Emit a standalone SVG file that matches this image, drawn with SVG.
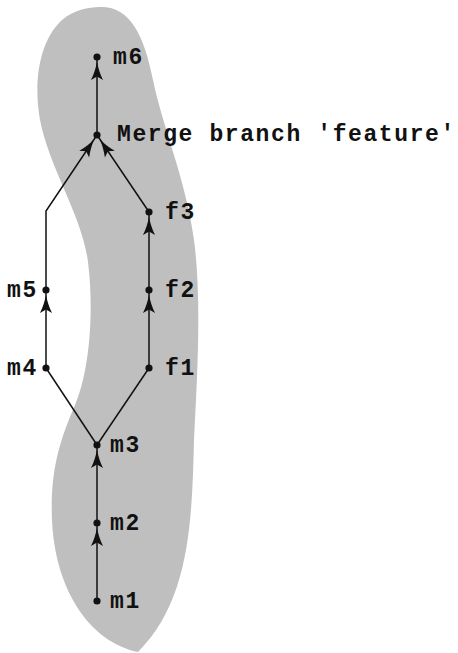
<svg xmlns="http://www.w3.org/2000/svg" width="458" height="653" viewBox="0 0 458 653">
<style>
.lbl{font-family:"Liberation Mono","Courier New",monospace;font-weight:bold;font-size:23px;letter-spacing:1.6px;fill:#111}
.e{fill:none;stroke:#111;stroke-width:1.5}
.dot{fill:#111}
</style>
<defs>
<marker id="ah" markerUnits="userSpaceOnUse" markerWidth="30" markerHeight="20" refX="5" refY="0" orient="auto" overflow="visible" viewBox="-25 -10 30 20">
<path d="M0,0 C-6,-1.2 -12,-3 -18,-6 L-14.5,0 L-18,6 C-12,3 -6,1.2 0,0 Z" fill="#111"/>
</marker>
</defs>
<path id="blob" d="M100,7 C130,6 144,35 153,80 C162,125 186,180 194,240 C202,300 197,380 194,440 C192,520 190,600 138,652 C90,642 55,590 52,520 C50,470 60,440 75,405 C90,370 94,310 88,262 C82,215 50,170 40,120 C33,80 40,40 62,20 C74,10 88,7 100,7 Z" fill="#bfbfbf"/>
<g id="edges">
<line class="e" x1="97" y1="601" x2="97" y2="523" marker-end="url(#ah)"/>
<line class="e" x1="97" y1="523" x2="97" y2="445" marker-end="url(#ah)"/>
<line class="e" x1="97" y1="445" x2="46" y2="368"/>
<line class="e" x1="97" y1="445" x2="149" y2="368"/>
<line class="e" x1="46" y1="368" x2="46" y2="290" marker-end="url(#ah)"/>
<polyline class="e" points="46,290 46,211 97,135" marker-end="url(#ah)"/>
<line class="e" x1="149" y1="368" x2="149" y2="290" marker-end="url(#ah)"/>
<line class="e" x1="149" y1="290" x2="149" y2="212" marker-end="url(#ah)"/>
<line class="e" x1="149" y1="212" x2="97" y2="135" marker-end="url(#ah)"/>
<line class="e" x1="97" y1="135" x2="97" y2="57" marker-end="url(#ah)"/>
</g>
<g id="m6"><circle class="dot" cx="97" cy="57" r="3.6"/><text class="lbl" x="113" y="64">m6</text></g>
<g id="merge"><circle class="dot" cx="97" cy="135" r="3.6"/><text class="lbl" x="117" y="141">Merge branch 'feature'</text></g>
<g id="f3"><circle class="dot" cx="149" cy="212" r="3.6"/><text class="lbl" x="165" y="219">f3</text></g>
<g id="f2"><circle class="dot" cx="149" cy="290" r="3.6"/><text class="lbl" x="165" y="297">f2</text></g>
<g id="f1"><circle class="dot" cx="149" cy="368" r="3.6"/><text class="lbl" x="165" y="375">f1</text></g>
<g id="m5"><circle class="dot" cx="46" cy="290" r="3.6"/><text class="lbl" x="7" y="297">m5</text></g>
<g id="m4"><circle class="dot" cx="46" cy="368" r="3.6"/><text class="lbl" x="7" y="375">m4</text></g>
<g id="m3"><circle class="dot" cx="97" cy="445" r="3.6"/><text class="lbl" x="110" y="452">m3</text></g>
<g id="m2"><circle class="dot" cx="97" cy="523" r="3.6"/><text class="lbl" x="110" y="530">m2</text></g>
<g id="m1"><circle class="dot" cx="97" cy="601" r="3.6"/><text class="lbl" x="110" y="608">m1</text></g>
</svg>
